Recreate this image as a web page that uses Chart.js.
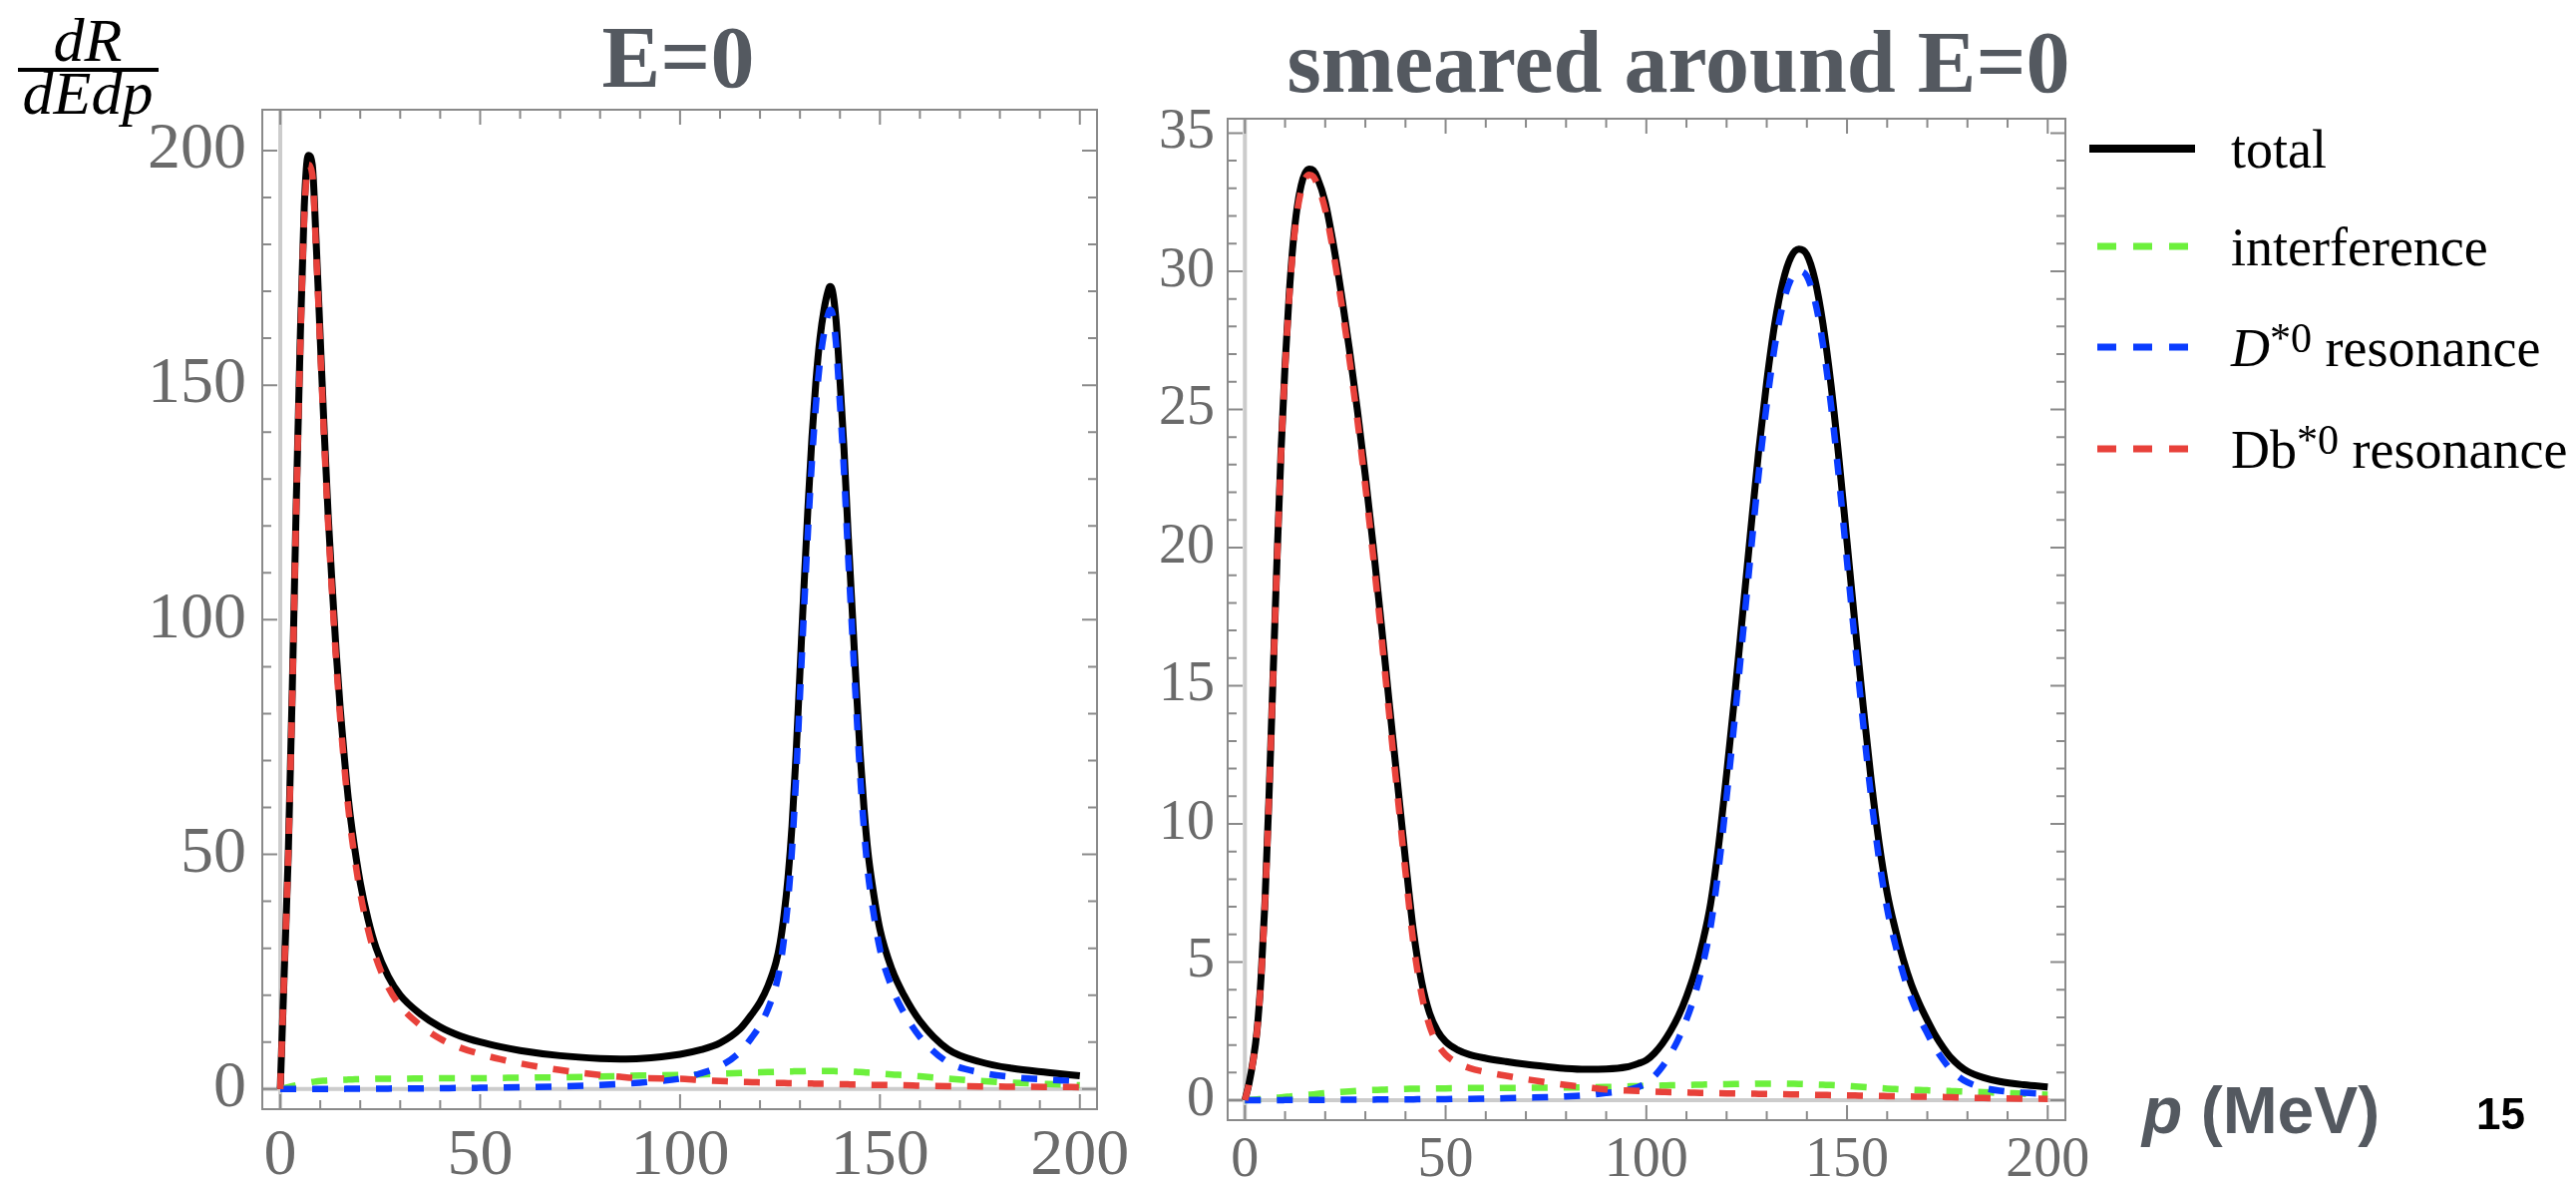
<!DOCTYPE html>
<html>
<head>
<meta charset="utf-8">
<script src="https://cdn.jsdelivr.net/npm/chart.js@4.4.0/dist/chart.umd.min.js"></script>
<style>
  html, body { margin: 0; padding: 0; background: #fff; }
  body { width: 2583px; height: 1181px; position: relative; overflow: hidden; }
  canvas { position: absolute; left: 0; top: 0; }
  .txt { position: absolute; white-space: nowrap; line-height: 1; }
  .title { font-family: "Liberation Serif", "Times New Roman", serif; font-weight: bold; font-size: 88px; color: #545960; transform: translateX(-50%); }
  .frac { font-family: "Liberation Serif", "Times New Roman", serif; font-style: italic; font-size: 62px; color: #000; transform: translateX(-50%); }
  #fracBar { position: absolute; left: 18px; top: 68px; width: 141px; height: 4px; background: #000; }
  #pLabel { font-family: "Liberation Sans", Arial, sans-serif; font-weight: bold; font-size: 66px; color: #545960; left: 2148px; top: 1080px; }
  #pageNum { font-family: "Liberation Sans", Arial, sans-serif; font-weight: bold; font-size: 44px; color: #000; left: 2483px; top: 1095px; }
  #legend { position: absolute; left: 2095px; top: 0; }
  .legRow { position: absolute; left: 0; width: 480px; height: 100px; }
  .legRow svg { position: absolute; left: 0; }
  .legRow span { position: absolute; left: 142px; font-family: "Liberation Serif", "Times New Roman", serif; font-size: 54px; color: #000; line-height: 1; white-space: nowrap; }
  .legRow sup { font-size: 0.78em; line-height: 0; vertical-align: 14px; }
</style>
</head>
<body>
<canvas id="leftChart" width="2583" height="1181"></canvas>
<canvas id="rightChart" width="2583" height="1181"></canvas>

<div class="txt frac" style="left:88px; top:9px;">dR</div>
<div id="fracBar"></div>
<div class="txt frac" style="left:88px; top:62px;">dEdp</div>

<div class="txt title" style="left:680px; top:14px;">E=0</div>
<div class="txt title" style="left:1683px; top:19px;">smeared around E=0</div>

<div id="legend"></div>

<div id="pLabel" class="txt"><i>p</i> (MeV)</div>
<div id="pageNum" class="txt">15</div>

<script>
// E = 0 : momentum grid (MeV) and curves
const P_LEFT = [0, 1, 2, 3, 4, 5, 6, 7, 8, 9, 10, 11, 12, 13, 14, 15,
    16, 17, 18, 20, 22, 24, 27, 30, 35, 40, 45, 50, 55, 60, 70, 80, 85, 90, 100, 105,
    110, 115, 118, 120, 122, 124, 125, 126, 127, 128, 129, 130, 131, 132, 133, 134, 135, 136, 137, 137.5,
    138, 139, 140, 141, 142, 143, 144, 145, 146, 147, 148, 150, 153, 156, 160, 167, 175, 183, 192, 200];
const TOTAL_LEFT = [0, 25, 50, 85, 125, 160, 188, 199, 197, 180, 160, 140, 122, 107, 93, 81,
    71, 62, 55, 44, 36, 30, 24, 20, 16, 13.2, 11.3, 10, 9, 8.2, 7.1, 6.5, 6.4, 6.5, 7.4, 8.3,
    9.8, 12.8, 16, 18.5, 22, 27, 31, 37, 45, 56, 71, 89, 107, 124, 139, 151, 160, 166, 170, 171,
    170.5, 164, 151, 136.6, 119, 103, 87, 72, 60, 50.5, 44, 34, 25.5, 20, 14.5, 8.5, 5.8, 4.4, 3.5, 2.8];
const INTERF_LEFT = [0, 0.2, 0.4, 0.6, 0.8, 1.0, 1.2, 1.35, 1.5, 1.6, 1.7, 1.75, 1.8, 1.85, 1.9, 1.95,
    1.97, 2.0, 2.03, 2.1, 2.13, 2.17, 2.2, 2.2, 2.25, 2.3, 2.3, 2.3, 2.35, 2.4, 2.5, 2.65, 2.75, 2.85, 3.0, 3.1,
    3.25, 3.4, 3.5, 3.55, 3.6, 3.65, 3.7, 3.7, 3.75, 3.75, 3.8, 3.8, 3.8, 3.85, 3.85, 3.85, 3.85, 3.85, 3.85, 3.85,
    3.85, 3.8, 3.8, 3.75, 3.7, 3.7, 3.65, 3.6, 3.55, 3.5, 3.45, 3.3, 3.1, 2.95, 2.7, 2.2, 1.7, 1.35, 1.05, 0.8];
const DSTAR_LEFT = [0, 0, 0, 0, 0.01, 0.01, 0.01, 0.01, 0.02, 0.02, 0.02, 0.02, 0.03, 0.03, 0.03, 0.03,
    0.03, 0.04, 0.04, 0.05, 0.05, 0.06, 0.08, 0.1, 0.13, 0.17, 0.2, 0.25, 0.3, 0.36, 0.55, 0.85, 1.05, 1.35, 2.2, 3.3,
    4.85, 7.9, 11.05, 13.55, 17.05, 22.05, 26, 32, 40, 51, 66, 84, 102, 119, 134, 146, 155, 161, 165, 166,
    165.6, 159, 146, 131.8, 114.3, 98.3, 82.4, 67.5, 55.5, 46.1, 39.7, 29.8, 21.6, 16.25, 11.1, 5.7, 3.55, 2.55, 2.0, 1.6];
const DBSTAR_LEFT = [0, 25, 50, 84, 124, 158, 186, 197, 195, 178, 158, 138, 120, 105, 91, 79,
    69, 60, 53, 41.8, 33.8, 27.8, 21.7, 17.7, 13.6, 10.7, 8.8, 7.45, 6.35, 5.45, 4.05, 3.0, 2.6, 2.3, 2.2, 1.9,
    1.7, 1.5, 1.45, 1.4, 1.35, 1.3, 1.3, 1.28, 1.25, 1.2, 1.2, 1.2, 1.2, 1.15, 1.15, 1.1, 1.1, 1.1, 1.1, 1.08,
    1.05, 1.05, 1.0, 1.0, 1.0, 0.95, 0.95, 0.92, 0.9, 0.9, 0.88, 0.85, 0.82, 0.8, 0.7, 0.6, 0.55, 0.5, 0.45, 0.4];

// smeared around E = 0
const P_RIGHT = [0, 1, 2, 3, 4, 5, 6, 7, 8, 9, 10, 11, 12, 13, 14, 15, 16, 17, 18,
    20, 22, 24, 26, 28, 30, 32, 34, 36, 38, 40, 42, 44, 46, 48, 50,
    53, 56, 60, 65, 70, 75, 80, 85, 90, 95, 98,
    100, 102, 104, 106, 108, 110, 112, 114, 116, 118, 120, 122, 124, 126, 128, 130, 132, 134, 136, 138,
    140, 142, 144, 146, 148, 150, 152, 154, 156, 158, 160, 162, 164, 166, 168, 170, 172, 174, 176, 178, 180,
    184, 188, 194, 200];
const TOTAL_RIGHT = [0, 0.6, 1.4, 2.5, 4.4, 7.2, 11, 15.3, 19.6, 23.5, 26.6, 29.1, 31, 32.3, 33.1, 33.55, 33.7, 33.65, 33.4,
    32.5, 31.0, 29.2, 27.2, 25.0, 22.6, 20.0, 17.2, 14.3, 11.5, 8.7, 6.1, 4.3, 3.15, 2.5, 2.12,
    1.82, 1.65, 1.52, 1.4, 1.3, 1.22, 1.15, 1.12, 1.13, 1.2, 1.33,
    1.45, 1.7, 2.05, 2.5, 3.05, 3.75, 4.6, 5.7, 7.1, 9.2, 11.8, 14.6, 17.6, 20.6, 23.5, 26.0, 28.1, 29.6, 30.5, 30.8,
    30.6, 29.7, 28.1, 25.9, 23.2, 20.2, 17.2, 14.3, 11.6, 9.3, 7.5, 6.2, 5.1, 4.2, 3.5, 2.9, 2.35, 1.9, 1.52, 1.25, 1.05,
    0.82, 0.68, 0.56, 0.48];
const INTERF_RIGHT = [0, 0.01, 0.02, 0.03, 0.04, 0.05, 0.06, 0.08, 0.09, 0.1, 0.12, 0.13, 0.15, 0.16, 0.18, 0.19, 0.2, 0.21, 0.23,
    0.26, 0.28, 0.3, 0.32, 0.34, 0.36, 0.37, 0.38, 0.39, 0.4, 0.41, 0.415, 0.42, 0.425, 0.43, 0.43,
    0.435, 0.44, 0.44, 0.445, 0.45, 0.455, 0.46, 0.47, 0.48, 0.5, 0.51,
    0.52, 0.525, 0.53, 0.54, 0.545, 0.55, 0.56, 0.565, 0.57, 0.575, 0.58, 0.585, 0.59, 0.595, 0.6, 0.6, 0.6, 0.6, 0.595, 0.59,
    0.58, 0.57, 0.56, 0.55, 0.535, 0.52, 0.5, 0.48, 0.46, 0.44, 0.42, 0.405, 0.39, 0.38, 0.37, 0.36, 0.35, 0.34, 0.33, 0.32, 0.31,
    0.29, 0.27, 0.235, 0.2];
const DSTAR_RIGHT = [0, 0, 0, 0, 0, 0, 0, 0, 0, 0, 0.01, 0.01, 0.01, 0.01, 0.01, 0.01, 0.01, 0.01, 0.01,
    0.01, 0.01, 0.02, 0.02, 0.02, 0.02, 0.02, 0.03, 0.03, 0.03, 0.03, 0.03, 0.04, 0.04, 0.04, 0.04,
    0.05, 0.05, 0.06, 0.07, 0.09, 0.11, 0.14, 0.18, 0.26, 0.36, 0.48,
    0.61, 0.87, 1.22, 1.67, 2.22, 2.92, 3.77, 4.87, 6.27, 8.37, 10.97, 13.77, 16.77, 19.77, 22.67, 25.18, 27.28, 28.79, 29.7, 30.0,
    29.82, 28.94, 27.35, 25.17, 22.49, 19.5, 16.53, 13.66, 10.98, 8.7, 6.93, 5.65, 4.57, 3.69, 3.0, 2.42, 1.88, 1.45, 1.08, 0.83, 0.65,
    0.45, 0.345, 0.27, 0.23];
const DBSTAR_RIGHT = [0, 0.59, 1.38, 2.47, 4.36, 7.15, 10.94, 15.22, 19.51, 23.4, 26.47, 28.96, 30.84, 32.13, 32.91, 33.35, 33.49, 33.43, 33.16,
    32.23, 30.71, 28.88, 26.86, 24.64, 22.22, 19.61, 16.79, 13.88, 11.07, 8.26, 5.66, 3.84, 2.69, 2.03, 1.65,
    1.34, 1.16, 1.02, 0.885, 0.76, 0.655, 0.55, 0.47, 0.39, 0.35, 0.335,
    0.32, 0.31, 0.3, 0.29, 0.285, 0.28, 0.27, 0.265, 0.26, 0.255, 0.25, 0.245, 0.24, 0.235, 0.23, 0.225, 0.22, 0.215, 0.21, 0.205,
    0.2, 0.195, 0.19, 0.185, 0.18, 0.175, 0.17, 0.165, 0.16, 0.155, 0.15, 0.145, 0.14, 0.135, 0.13, 0.125, 0.12, 0.115, 0.11, 0.1, 0.09,
    0.08, 0.065, 0.055, 0.05];

// ticks
const X_TICKS = [0, 10, 20, 30, 40, 50, 60, 70, 80, 90, 100, 110, 120, 130, 140, 150, 160, 170, 180, 190, 200];
const X_LABELS = [0, 50, 100, 150, 200];
const Y_TICKS_LEFT = [0, 10, 20, 30, 40, 50, 60, 70, 80, 90, 100, 110, 120, 130, 140, 150, 160, 170, 180, 190, 200];
const Y_LABELS_LEFT = [0, 50, 100, 150, 200];
const Y_TICKS_RIGHT = [0, 1, 2, 3, 4, 5, 6, 7, 8, 9, 10, 11, 12, 13, 14, 15, 16, 17, 18, 19, 20, 21, 22, 23, 24, 25, 26, 27, 28, 29, 30, 31, 32, 33, 34, 35];
const Y_LABELS_RIGHT = [0, 5, 10, 15, 20, 25, 30, 35];

const SERIES_LABELS = ['total', 'interference', 'D*0 resonance', 'Db*0 resonance'];
const LEGEND_HTML = ['total', 'interference', '<i>D</i><sup>*0</sup> resonance', 'Db<sup>*0</sup> resonance'];
const SERIES_COLORS = ['#000000', '#6cf03c', '#0a3cff', '#e8413a'];

const FRAME_GRAY = '#8a8a8a';
const LABEL_GRAY = '#6a6a6a';

const pts = (xs, ys) => xs.map((x, i) => ({ x: x, y: ys[i] }));

// Mathematica-style frame: inward ticks on all four sides, light axes through 0
const framePlugin = {
    id: 'mmaFrame',
    beforeDatasetsDraw(chart) {
        const { ctx, chartArea: a, scales: { x, y } } = chart;
        const x0 = x.getPixelForValue(0);
        const y0 = y.getPixelForValue(0);
        ctx.save();
        ctx.strokeStyle = '#cccccc';
        ctx.lineWidth = 4;
        ctx.beginPath();
        ctx.moveTo(x0, a.top); ctx.lineTo(x0, a.bottom);
        ctx.moveTo(a.left, y0); ctx.lineTo(a.right, y0);
        ctx.stroke();
        ctx.restore();
    },
    afterDraw(chart, args, opts) {
        const { ctx, chartArea: a, scales: { x, y } } = chart;
        ctx.save();
        ctx.strokeStyle = FRAME_GRAY;
        ctx.lineWidth = 2;
        ctx.strokeRect(a.left, a.top, a.right - a.left, a.bottom - a.top);
        ctx.beginPath();
        x.ticks.forEach(t => {
            const px = x.getPixelForValue(t.value);
            const len = t.value % opts.xMajor === 0 ? 15 : 9;
            ctx.moveTo(px, a.bottom); ctx.lineTo(px, a.bottom - len);
            ctx.moveTo(px, a.top); ctx.lineTo(px, a.top + len);
        });
        y.ticks.forEach(t => {
            const py = y.getPixelForValue(t.value);
            const len = t.value % opts.yMajor === 0 ? 15 : 9;
            ctx.moveTo(a.left, py); ctx.lineTo(a.left + len, py);
            ctx.moveTo(a.right, py); ctx.lineTo(a.right - len, py);
        });
        ctx.stroke();
        ctx.restore();
    }
};

function makeDatasets(p, total, interf, dstar, dbstar) {
    const common = { pointRadius: 0, fill: false, cubicInterpolationMode: 'monotone', borderCapStyle: 'butt', borderJoinStyle: 'round' };
    return [
        { ...common, label: SERIES_LABELS[0], data: pts(p, total), borderColor: SERIES_COLORS[0], borderWidth: 7, order: 4 },
        { ...common, label: SERIES_LABELS[1], data: pts(p, interf), borderColor: SERIES_COLORS[1], borderWidth: 6.5, borderDash: [16, 16], order: 3 },
        { ...common, label: SERIES_LABELS[2], data: pts(p, dstar), borderColor: SERIES_COLORS[2], borderWidth: 6.5, borderDash: [16, 16], order: 2 },
        { ...common, label: SERIES_LABELS[3], data: pts(p, dbstar), borderColor: SERIES_COLORS[3], borderWidth: 6.5, borderDash: [16, 16], order: 1 }
    ];
}

function makeChart(id, cfg) {
    const ctx = document.getElementById(id).getContext('2d');
    const tickFont = { family: '"Liberation Serif", "Times New Roman", serif', size: cfg.fontSize };
    return new Chart(ctx, {
        type: 'line',
        data: { datasets: cfg.datasets },
        plugins: [framePlugin],
        options: {
            responsive: false,
            animation: false,
            events: [],
            layout: { padding: cfg.padding },
            plugins: {
                legend: { display: false },
                tooltip: { enabled: false },
                mmaFrame: { xMajor: 50, yMajor: cfg.yMajor }
            },
            scales: {
                x: {
                    type: 'linear',
                    min: cfg.xMin,
                    max: cfg.xMax,
                    grid: { display: false, drawTicks: false },
                    border: { display: false },
                    afterBuildTicks: s => { s.ticks = X_TICKS.map(v => ({ value: v })); },
                    afterFit: s => { s.height = cfg.xAxisHeight; },
                    ticks: {
                        autoSkip: false,
                        maxRotation: 0,
                        padding: cfg.xPad,
                        color: LABEL_GRAY,
                        font: tickFont,
                        callback: v => X_LABELS.includes(v) ? String(v) : ''
                    }
                },
                y: {
                    type: 'linear',
                    min: cfg.yMin,
                    max: cfg.yMax,
                    grid: { display: false, drawTicks: false },
                    border: { display: false },
                    afterBuildTicks: s => { s.ticks = cfg.yTicks.map(v => ({ value: v })); },
                    afterFit: s => { s.width = cfg.yAxisWidth; },
                    ticks: {
                        autoSkip: false,
                        padding: cfg.yPad,
                        color: LABEL_GRAY,
                        font: tickFont,
                        callback: v => cfg.yLabels.includes(v) ? String(v) : ''
                    }
                }
            }
        }
    });
}

const leftChart = makeChart('leftChart', {
    datasets: makeDatasets(P_LEFT, TOTAL_LEFT, INTERF_LEFT, DSTAR_LEFT, DBSTAR_LEFT),
    padding: { left: 0, top: 110, right: 1483, bottom: 0 },
    xMin: -4.5, xMax: 204.3, yMin: -4.3, yMax: 208.7,
    yTicks: Y_TICKS_LEFT, yLabels: Y_LABELS_LEFT, yMajor: 50,
    xAxisHeight: 69, yAxisWidth: 263,
    xPad: 8, yPad: 16, fontSize: 66
});

const rightChart = makeChart('rightChart', {
    datasets: makeDatasets(P_RIGHT, TOTAL_RIGHT, INTERF_RIGHT, DSTAR_RIGHT, DBSTAR_RIGHT),
    padding: { left: 1100, top: 119, right: 512, bottom: 0 },
    xMin: -4.3, xMax: 204.4, yMin: -0.72, yMax: 35.52,
    yTicks: Y_TICKS_RIGHT, yLabels: Y_LABELS_RIGHT, yMajor: 5,
    xAxisHeight: 58, yAxisWidth: 131,
    xPad: 8, yPad: 13, fontSize: 56
});

// legend built from the right chart's datasets
const legend = document.getElementById('legend');
const ROW_Y = [149, 247, 348, 450];
rightChart.data.datasets.forEach((ds, i) => {
    const row = document.createElement('div');
    row.className = 'legRow';
    row.style.top = (ROW_Y[i] - 10) + 'px';
    const dashed = ds.borderDash && ds.borderDash.length;
    const x1 = dashed ? 8 : 0;
    const x2 = dashed ? 100 : 106;
    row.innerHTML =
        `<svg width="110" height="20"><line x1="${x1}" y1="10" x2="${x2}" y2="10" stroke="${ds.borderColor}" stroke-width="${dashed ? 7 : 8}" ${dashed ? 'stroke-dasharray="19 17"' : ''}/></svg>` +
        `<span style="top:${19 + 10 - 45}px">${LEGEND_HTML[i]}</span>`;
    legend.appendChild(row);
});
</script>
</body>
</html>
